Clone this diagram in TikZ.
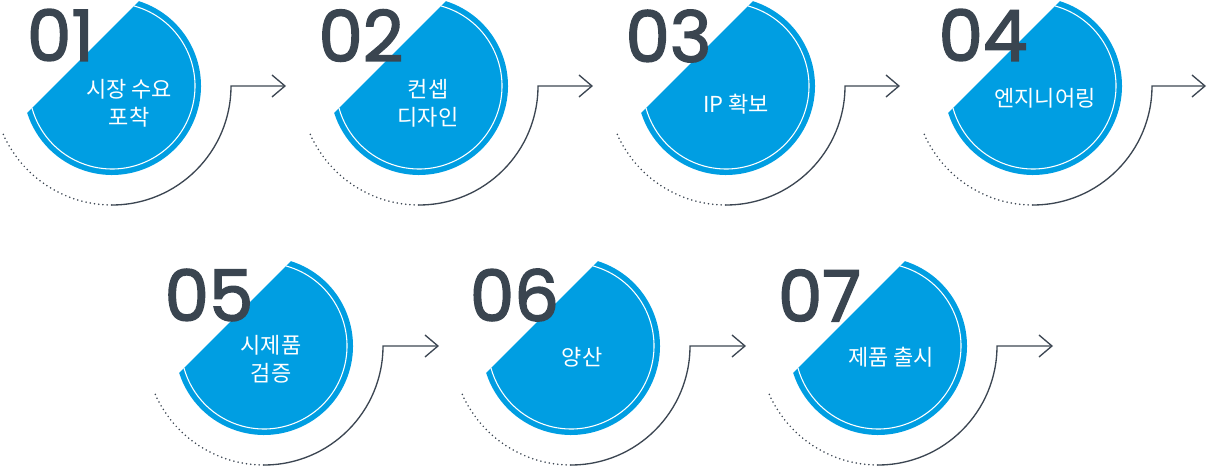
\documentclass[tikz,border=0pt]{standalone}
\usepackage{fontspec}
\usepackage{tikz}
\usetikzlibrary{arrows.meta}
\newfontfamily\numfont{Poppins}[FakeBold=2.2]
\newfontfamily\kofont{Noto Sans CJK KR}

\begin{document}
\begin{tikzpicture}[x=0.75pt,y=0.75pt,
    blueslice/.style={fill=slicecolor},
    ringline/.style={draw=white,line width=0.8pt},
    dotarc/.style={draw=linecolor,line width=1.3pt,dash pattern=on 0pt off 3.2pt,line cap=round},
    leadarc/.style={draw=linecolor,line width=1pt,-{Straight Barb[length=9.75pt,width=16.5pt]}},
    numtext/.style={text=numcolor,font=\numfont\fontsize{53}{53}\selectfont,inner sep=0pt},
    labeltext/.style={text=white,align=center,font=\kofont\fontsize{16.5}{21}\selectfont,inner sep=0pt}]
            \definecolor{slicecolor}{RGB}{0,158,226}
            \definecolor{numcolor}{RGB}{58,69,80}
            \definecolor{linecolor}{RGB}{60,70,82}

            \useasboundingbox (0,0) rectangle (1208,467);

            % 01 시장 수요 포착
            \coordinate (c1) at (112,381);
            \fill[blueslice] ([shift={(72.4:89)}]c1) arc[start angle=72.4,end angle=-162.4,radius=89] -- cycle;
            \draw[ringline] ([shift={(74.6:83)}]c1) arc[start angle=74.6,end angle=-164.6,radius=83];
            \draw[dotarc] ([shift={(204:119)}]c1) arc[start angle=204,end angle=270,radius=119];
            \coordinate (t1) at ([shift={(174,0)}]c1);
            \draw[leadarc] ([shift={(270:119)}]c1) arc[start angle=270,end angle=360,radius=119] -- (t1);
            \node[numtext] (n1) at (60.5,432) {01};
            \node[labeltext] (l1) at (129,364) {시장 수요\\포착};

            % 02 컨셉 디자인
            \coordinate (c2) at (419,381);
            \fill[blueslice] ([shift={(72.4:89)}]c2) arc[start angle=72.4,end angle=-162.4,radius=89] -- cycle;
            \draw[ringline] ([shift={(74.6:83)}]c2) arc[start angle=74.6,end angle=-164.6,radius=83];
            \draw[dotarc] ([shift={(204:119)}]c2) arc[start angle=204,end angle=270,radius=119];
            \coordinate (t2) at ([shift={(174,0)}]c2);
            \draw[leadarc] ([shift={(270:119)}]c2) arc[start angle=270,end angle=360,radius=119] -- (t2);
            \node[numtext] (n2) at (361,431.5) {02};
            \node[labeltext] (l2) at (428,364) {컨셉\\디자인};

            % 03 IP 확보
            \coordinate (c3) at (726,381);
            \fill[blueslice] ([shift={(72.4:89)}]c3) arc[start angle=72.4,end angle=-162.4,radius=89] -- cycle;
            \draw[ringline] ([shift={(74.6:83)}]c3) arc[start angle=74.6,end angle=-164.6,radius=83];
            \draw[dotarc] ([shift={(204:119)}]c3) arc[start angle=204,end angle=270,radius=119];
            \coordinate (t3) at ([shift={(174,0)}]c3);
            \draw[leadarc] ([shift={(270:119)}]c3) arc[start angle=270,end angle=360,radius=119] -- (t3);
            \node[numtext] (n3) at (668.5,431) {03};
            \node[labeltext] (l3) at (736,363) {IP 확보};

            % 04 엔지니어링
            \coordinate (c4) at (1033,381);
            \fill[blueslice] ([shift={(72.4:89)}]c4) arc[start angle=72.4,end angle=-162.4,radius=89] -- cycle;
            \draw[ringline] ([shift={(74.6:83)}]c4) arc[start angle=74.6,end angle=-164.6,radius=83];
            \draw[dotarc] ([shift={(204:119)}]c4) arc[start angle=204,end angle=270,radius=119];
            \coordinate (t4) at ([shift={(173,0)}]c4);
            \draw[leadarc] ([shift={(270:119)}]c4) arc[start angle=270,end angle=360,radius=119] -- (t4);
            \node[numtext] (n4) at (983,432) {04};
            \node[labeltext] (l4) at (1045,368.5) {엔지니어링};

            % 05 시제품 검증
            \coordinate (c5) at (264,121);
            \fill[blueslice] ([shift={(72.4:89)}]c5) arc[start angle=72.4,end angle=-162.4,radius=89] -- cycle;
            \draw[ringline] ([shift={(74.6:83)}]c5) arc[start angle=74.6,end angle=-164.6,radius=83];
            \draw[dotarc] ([shift={(204:119)}]c5) arc[start angle=204,end angle=270,radius=119];
            \coordinate (t5) at ([shift={(175,0)}]c5);
            \draw[leadarc] ([shift={(270:119)}]c5) arc[start angle=270,end angle=360,radius=119] -- (t5);
            \node[numtext] (n5) at (209,172) {05};
            \node[labeltext] (l5) at (271,108) {시제품\\검증};

            % 06 양산
            \coordinate (c6) at (571,121);
            \fill[blueslice] ([shift={(72.4:89)}]c6) arc[start angle=72.4,end angle=-162.4,radius=89] -- cycle;
            \draw[ringline] ([shift={(74.6:83)}]c6) arc[start angle=74.6,end angle=-164.6,radius=83];
            \draw[dotarc] ([shift={(204:119)}]c6) arc[start angle=204,end angle=270,radius=119];
            \coordinate (t6) at ([shift={(175,0)}]c6);
            \draw[leadarc] ([shift={(270:119)}]c6) arc[start angle=270,end angle=360,radius=119] -- (t6);
            \node[numtext] (n6) at (514.5,172) {06};
            \node[labeltext] (l6) at (582,109.5) {양산};

            % 07 제품 출시
            \coordinate (c7) at (878,121);
            \fill[blueslice] ([shift={(72.4:89)}]c7) arc[start angle=72.4,end angle=-162.4,radius=89] -- cycle;
            \draw[ringline] ([shift={(74.6:83)}]c7) arc[start angle=74.6,end angle=-164.6,radius=83];
            \draw[dotarc] ([shift={(204:119)}]c7) arc[start angle=204,end angle=270,radius=119];
            \coordinate (t7) at ([shift={(175,0)}]c7);
            \draw[leadarc] ([shift={(270:119)}]c7) arc[start angle=270,end angle=360,radius=119] -- (t7);
            \node[numtext] (n7) at (819.5,171.5) {07};
            \node[labeltext] (l7) at (891,109.5) {제품 출시};
        \end{tikzpicture}
\end{document}
